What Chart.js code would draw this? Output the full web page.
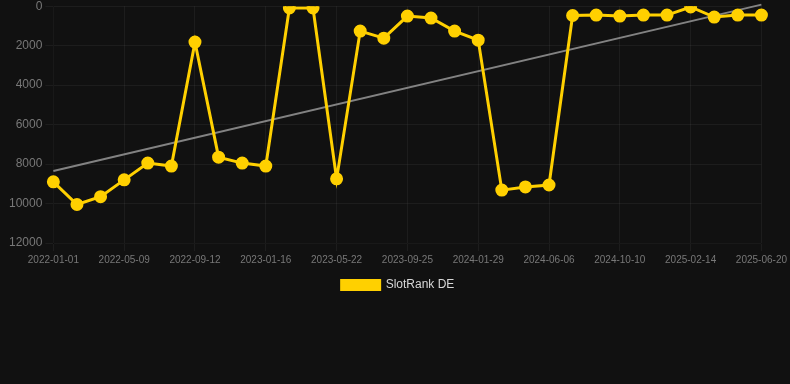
<!DOCTYPE html>
<html>
<head>
<meta charset="utf-8">
<script src="https://cdn.jsdelivr.net/npm/chart.js@4"></script>
<style>
  html, body { margin: 0; padding: 0; background: #111111; overflow: hidden; }
  #wrap { width: 790px; height: 305px; margin-top: -4px; }
</style>
</head>
<body>
<div id="wrap"><canvas id="graph"></canvas></div>
<script>
const yellow = 'rgb(255, 208, 0)'
const trendGrey = 'rgba(150, 150, 150, 0.85)'
const tickGrey = 'rgb(120, 120, 120)'
const gridGrey = 'rgba(255, 255, 255, 0.05)'

// one label per point, every 3rd shows on the axis
const dates = [
    '2022-01-01', '2022-02-12', '2022-03-26', '2022-05-09', '2022-06-20', '2022-08-01',
    '2022-09-12', '2022-10-24', '2022-12-05', '2023-01-16', '2023-02-27', '2023-04-10',
    '2023-05-22', '2023-07-03', '2023-08-14', '2023-09-25', '2023-11-06', '2023-12-18',
    '2024-01-29', '2024-03-11', '2024-04-24', '2024-06-06', '2024-07-18', '2024-08-29',
    '2024-10-10', '2024-11-21', '2025-01-03', '2025-02-14', '2025-03-28', '2025-05-09',
    '2025-06-20'
]

// SlotRank DE (lower is better, axis reversed)
const rank = [
    8900, 10050, 9650, 8800, 7950, 8100,
    1820, 7650, 7950, 8100, 90, 90,
    8750, 1260, 1620, 500, 600, 1260,
    1720, 9320, 9160, 9060, 470, 450,
    500, 450, 450, 40, 550, 450,
    450
]

// trend line: only the two ends
const trendStart = 8350
const trendEnd = -80

const trend = dates.map((d, i) => i === 0 ? trendStart : (i === dates.length - 1 ? trendEnd : null))

const ctx = document.getElementById('graph')
new Chart(ctx, {
    type: 'line',
    data: {
        labels: dates,
        datasets: [
            {
                label: 'SlotRank DE',
                data: rank,
                borderColor: yellow,
                backgroundColor: yellow,
                borderWidth: 3,
                pointRadius: 5,
                pointBackgroundColor: yellow,
                pointBorderColor: yellow,
                tension: 0
            },
            {
                label: 'trend',
                data: trend,
                spanGaps: true,
                borderColor: trendGrey,
                borderWidth: 2,
                pointRadius: 0,
                clip: false
            }
        ]
    },
    options: {
        responsive: true,
        maintainAspectRatio: false,
        animation: false,
        layout: { padding: { left: 6 } },
        plugins: {
            legend: {
                position: 'bottom',
                labels: {
                    color: 'rgb(215, 215, 215)',
                    boxWidth: 38,
                    boxHeight: 9,
                    font: { family: 'Liberation Sans', size: 12 },
                    filter: item => item.text !== 'trend'
                }
            },
            tooltip: { enabled: false }
        },
        scales: {
            x: {
                grid: { color: gridGrey },
                ticks: {
                    color: tickGrey,
                    maxRotation: 0,
                    autoSkip: true,
                    maxTicksLimit: 11,
                    font: { family: 'Liberation Sans', size: 10 }
                }
            },
            y: {
                reverse: true,
                min: 0,
                max: 12000,
                grid: { color: gridGrey },
                ticks: {
                    stepSize: 2000,
                    color: tickGrey,
                    font: { family: 'Liberation Sans', size: 12 },
                    callback: v => String(v)
                }
            }
        }
    }
})
</script>
</body>
</html>
